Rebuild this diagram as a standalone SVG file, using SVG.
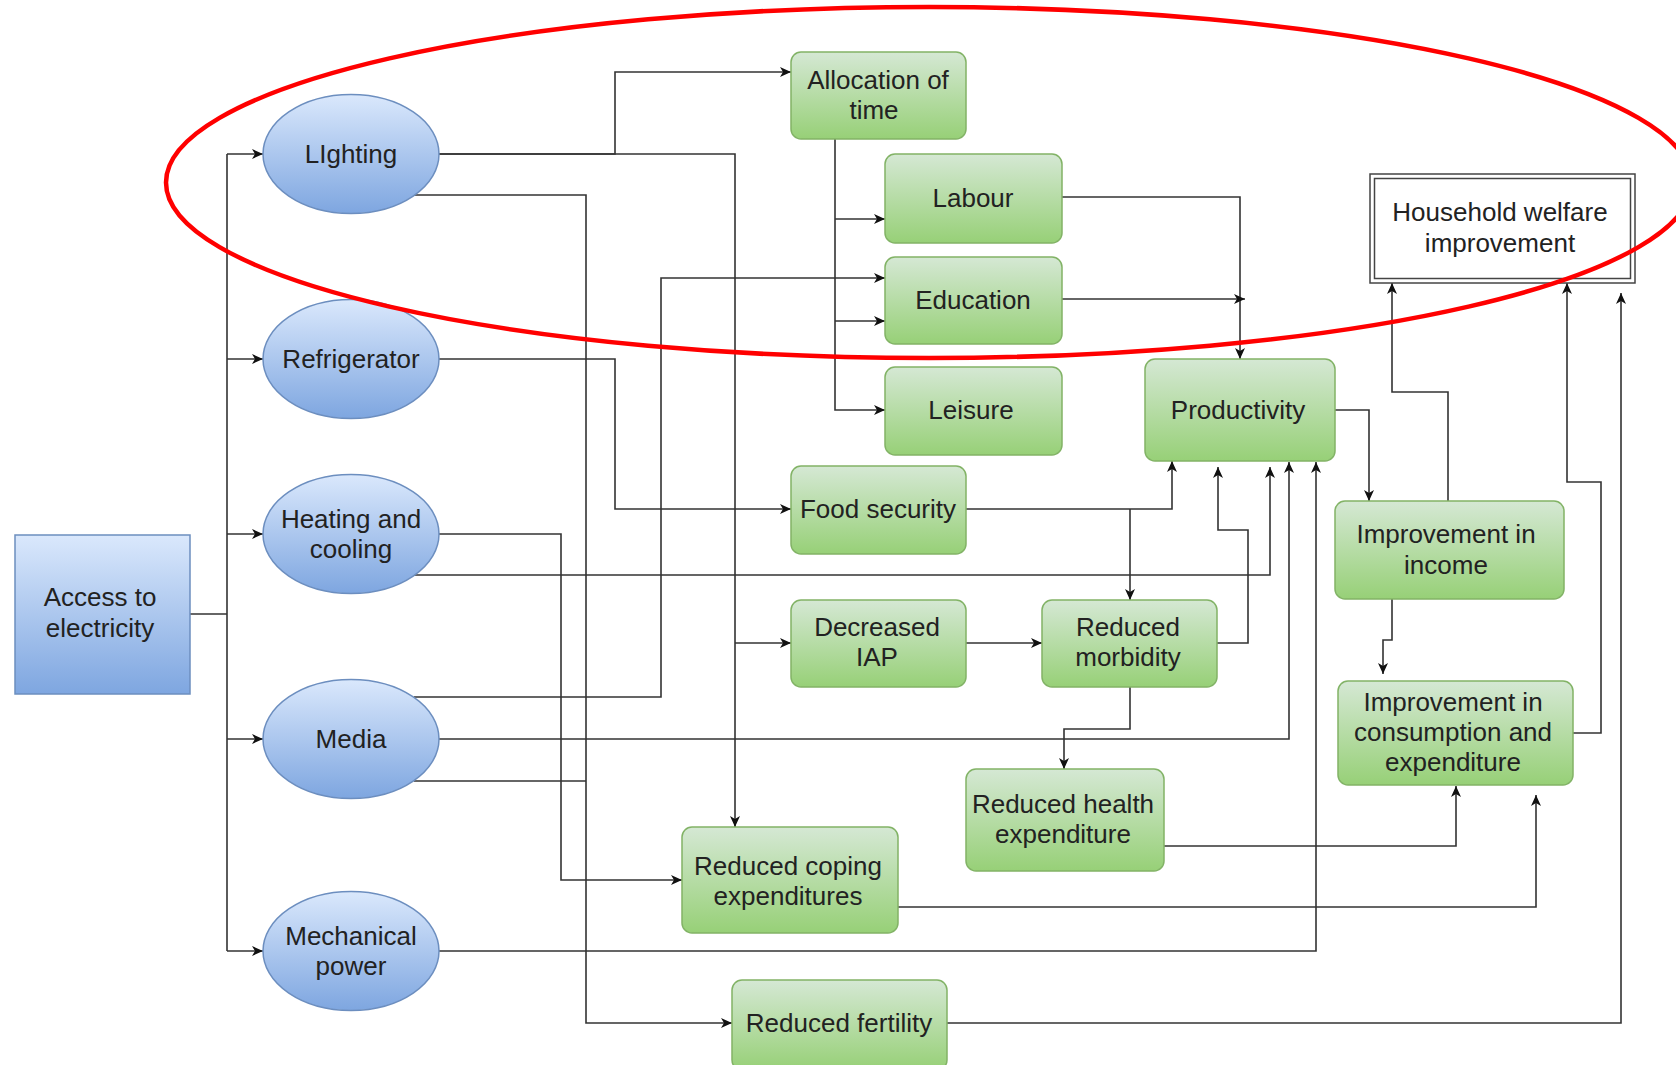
<svg xmlns="http://www.w3.org/2000/svg" width="1676" height="1065" viewBox="0 0 1676 1065">
<defs>
<linearGradient id="gBlue" x1="0" y1="0" x2="0" y2="1"><stop offset="0" stop-color="#dae8fc"/><stop offset="1" stop-color="#7ea6e0"/></linearGradient>
<linearGradient id="gGreen" x1="0" y1="0" x2="0" y2="1"><stop offset="0" stop-color="#d5e8d4"/><stop offset="1" stop-color="#97d077"/></linearGradient>
<marker id="arr" markerUnits="userSpaceOnUse" markerWidth="12" markerHeight="12" refX="11" refY="6" orient="auto"><path d="M0,1 L11,6 L0,11 L3,6 Z" fill="#111"/></marker>
<style>
.ell{fill:url(#gBlue);stroke:#6c8ebf;stroke-width:1.5}
.box{fill:url(#gGreen);stroke:#82b366;stroke-width:1.5}
.acc{fill:url(#gBlue);stroke:#6c8ebf;stroke-width:1.5}
.t{font-family:"Liberation Sans",Arial,sans-serif;font-size:26px;fill:#222;text-anchor:middle;dominant-baseline:central}
.c{fill:none;stroke:#333;stroke-width:1.6}
.ca{fill:none;stroke:#333;stroke-width:1.6;marker-end:url(#arr)}
</style>
</defs>
<rect width="1676" height="1065" fill="#fff"/>

<g id="connectors">
<path class="c" d="M190,614 H227" stroke-width="2.5"/>
<path class="c" d="M227,154 V951"/>
<path class="ca" d="M227,154 H263"/>
<path class="ca" d="M227,359 H263"/>
<path class="ca" d="M227,534 H263"/>
<path class="ca" d="M227,739 H263"/>
<path class="ca" d="M227,951 H263"/>
<path class="ca" d="M438,154 H615 V72 H791"/>
<path class="ca" d="M438,154 H735 V827"/>
<path class="ca" d="M735,643 H791"/>
<path class="ca" d="M414,195 H586 V1023 H732"/>
<path class="ca" d="M438,359 H615 V509 H791"/>
<path class="ca" d="M438,534 H561 V880 H682"/>
<path class="ca" d="M414,575 H1270 V467"/>
<path class="ca" d="M414,697 H661 V278 H885"/>
<path class="ca" d="M438,739 H1289 V462"/>
<path class="c" d="M414,781 H586"/>
<path class="ca" d="M438,951 H1316 V462"/>
<path class="ca" d="M835,139 V410 H885"/>
<path class="ca" d="M835,219 H885"/>
<path class="ca" d="M835,321 H885"/>
<path class="ca" d="M1062,197 H1240 V359"/>
<path class="ca" d="M1062,299 H1245"/>
<path class="ca" d="M966,509 H1172 V461"/>
<path class="ca" d="M1130,509 V600"/>
<path class="ca" d="M966,643 H1042"/>
<path class="ca" d="M1217,643 H1248 V530 H1218 V467"/>
<path class="ca" d="M1130,686 V729 H1064 V769"/>
<path class="ca" d="M1335,410 H1369 V501"/>
<path class="ca" d="M1448,501 V392 H1392 V283"/>
<path class="ca" d="M1392,599 V640 H1383 V674"/>
<path class="ca" d="M1573,733 H1601 V482 H1567 V283"/>
<path class="ca" d="M947,1023 H1621 V293"/>
<path class="ca" d="M1164,846 H1456 V786"/>
<path class="ca" d="M898,907 H1536 V795"/>
</g>

<g id="access"><rect class="acc" x="15" y="535" width="175" height="159"/><text class="t" x="100" y="597">Access to</text><text class="t" x="100" y="628">electricity</text></g>

<g id="lighting"><ellipse class="ell" cx="351" cy="154" rx="88" ry="59.5"/><text class="t" x="351" y="154">LIghting</text></g>
<g id="refrigerator"><ellipse class="ell" cx="351" cy="359" rx="88" ry="59.5"/><text class="t" x="351" y="359">Refrigerator</text></g>
<g id="heating"><ellipse class="ell" cx="351" cy="534" rx="88" ry="59.5"/><text class="t" x="351" y="519">Heating and</text><text class="t" x="351" y="549">cooling</text></g>
<g id="media"><ellipse class="ell" cx="351" cy="739" rx="88" ry="59.5"/><text class="t" x="351" y="739">Media</text></g>
<g id="mechanical"><ellipse class="ell" cx="351" cy="951" rx="88" ry="59.5"/><text class="t" x="351" y="936">Mechanical</text><text class="t" x="351" y="966">power</text></g>

<g id="allocation"><rect class="box" x="791" y="52" width="175" height="87" rx="10"/><text class="t" x="878" y="80">Allocation of</text><text class="t" x="874" y="110">time</text></g>
<g id="labour"><rect class="box" x="885" y="154" width="177" height="89" rx="10"/><text class="t" x="973" y="198">Labour</text></g>
<g id="education"><rect class="box" x="885" y="257" width="177" height="87" rx="10"/><text class="t" x="973" y="300">Education</text></g>
<g id="leisure"><rect class="box" x="885" y="367" width="177" height="88" rx="10"/><text class="t" x="971" y="410">Leisure</text></g>
<g id="productivity"><rect class="box" x="1145" y="359" width="190" height="102" rx="10"/><text class="t" x="1238" y="410">Productivity</text></g>
<g id="household"><rect x="1370" y="174" width="265" height="109" fill="#fff" stroke="#444" stroke-width="1.5"/><rect x="1374.5" y="178.5" width="256" height="100" fill="none" stroke="#444" stroke-width="1.5"/><text class="t" x="1500" y="212">Household welfare</text><text class="t" x="1500" y="243">improvement</text></g>
<g id="food"><rect class="box" x="791" y="466" width="175" height="88" rx="10"/><text class="t" x="878" y="509">Food security</text></g>
<g id="income"><rect class="box" x="1335" y="501" width="229" height="98" rx="10"/><text class="t" x="1446" y="534">Improvement in</text><text class="t" x="1446" y="565">income</text></g>
<g id="iap"><rect class="box" x="791" y="600" width="175" height="87" rx="10"/><text class="t" x="877" y="627">Decreased</text><text class="t" x="877" y="657">IAP</text></g>
<g id="morbidity"><rect class="box" x="1042" y="600" width="175" height="87" rx="10"/><text class="t" x="1128" y="627">Reduced</text><text class="t" x="1128" y="657">morbidity</text></g>
<g id="consumption"><rect class="box" x="1338" y="681" width="235" height="104" rx="10"/><text class="t" x="1453" y="702">Improvement in</text><text class="t" x="1453" y="732">consumption and</text><text class="t" x="1453" y="762">expenditure</text></g>
<g id="health"><rect class="box" x="966" y="769" width="198" height="102" rx="10"/><text class="t" x="1063" y="804">Reduced health</text><text class="t" x="1063" y="834">expenditure</text></g>
<g id="coping"><rect class="box" x="682" y="827" width="216" height="106" rx="10"/><text class="t" x="788" y="866">Reduced coping</text><text class="t" x="788" y="896">expenditures</text></g>
<g id="fertility"><rect class="box" x="732" y="980" width="215" height="90" rx="10"/><text class="t" x="839" y="1023">Reduced fertility</text></g>

<ellipse cx="929" cy="182.5" rx="763" ry="175.5" fill="none" stroke="#f00" stroke-width="4.5"/>
</svg>
